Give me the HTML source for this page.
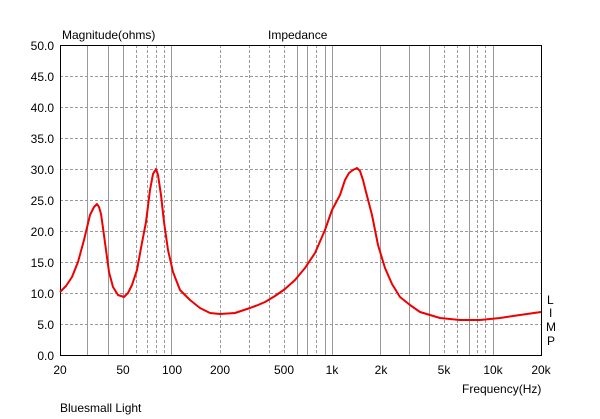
<!DOCTYPE html>
<html><head><style>body{margin:0;background:#fff}svg{display:block}text{font-family:"Liberation Sans",sans-serif;font-size:12px;fill:#000}</style></head><body>
<svg width="600" height="419" xmlns="http://www.w3.org/2000/svg">
<g stroke="#999" stroke-width="1" shape-rendering="crispEdges">
<g stroke-dasharray="3,2">
<line x1="60" x2="541" y1="76.5" y2="76.5"/><line x1="60" x2="541" y1="107.5" y2="107.5"/><line x1="60" x2="541" y1="138.5" y2="138.5"/><line x1="60" x2="541" y1="169.5" y2="169.5"/><line x1="60" x2="541" y1="200.5" y2="200.5"/><line x1="60" x2="541" y1="231.5" y2="231.5"/><line x1="60" x2="541" y1="262.5" y2="262.5"/><line x1="60" x2="541" y1="293.5" y2="293.5"/><line x1="60" x2="541" y1="324.5" y2="324.5"/>
<line x1="136.5" x2="136.5" y1="45" y2="355"/><line x1="147.5" x2="147.5" y1="45" y2="355"/><line x1="156.5" x2="156.5" y1="45" y2="355"/><line x1="164.5" x2="164.5" y1="45" y2="355"/>
<line x1="220.5" x2="220.5" y1="45" y2="355"/><line x1="249.5" x2="249.5" y1="45" y2="355"/><line x1="269.5" x2="269.5" y1="45" y2="355"/><line x1="284.5" x2="284.5" y1="45" y2="355"/><line x1="316.5" x2="316.5" y1="45" y2="355"/>
<line x1="444.5" x2="444.5" y1="45" y2="355"/><line x1="457.5" x2="457.5" y1="45" y2="355"/><line x1="477.5" x2="477.5" y1="45" y2="355"/><line x1="485.5" x2="485.5" y1="45" y2="355"/>
</g>
<line x1="87.5" x2="87.5" y1="45" y2="355"/><line x1="108.5" x2="108.5" y1="45" y2="355"/><line x1="123.5" x2="123.5" y1="45" y2="355"/><line x1="171.5" x2="171.5" y1="45" y2="355"/>
<line x1="297.5" x2="297.5" y1="45" y2="355"/><line x1="307.5" x2="307.5" y1="45" y2="355"/><line x1="325.5" x2="325.5" y1="45" y2="355"/><line x1="332.5" x2="332.5" y1="45" y2="355"/>
<line x1="380.5" x2="380.5" y1="45" y2="355"/><line x1="409.5" x2="409.5" y1="45" y2="355"/><line x1="429.5" x2="429.5" y1="45" y2="355"/><line x1="469.5" x2="469.5" y1="45" y2="355"/><line x1="493.5" x2="493.5" y1="45" y2="355"/>
</g>
<rect x="60.5" y="45.5" width="481" height="310" fill="none" stroke="#000" shape-rendering="crispEdges"/>
<polyline fill="none" stroke="#e00" stroke-width="2" stroke-linejoin="round" points="60,292 66,286 72,277 78,262 84,240 90,215 94,207 97,204 99,207 101,214 103,228 106,250 109,272 113,287 118,295 124,297 128,293 132,285 137,270 141,248 146,222 150,190 153,174 156,169 158,175 161,195 164,222 168,250 173,272 180,290 190,300 200,308 210,313 220,314 235,313 250,308 258,305 265,302 275,296 285,289 295,280 305,268 315,253 325,230 332,210 340,195 345,180 349,173 353,170 357,168 360,171 363,180 366,192 372,215 378,245 385,268 392,284 400,297 410,305 420,312 440,318 460,320 480,320 500,318 520,315 541,312"/>
<g text-anchor="end">
<text x="54" y="50">50.0</text><text x="54" y="81">45.0</text><text x="54" y="112">40.0</text><text x="54" y="143">35.0</text><text x="54" y="174">30.0</text><text x="54" y="205">25.0</text><text x="54" y="236">20.0</text><text x="54" y="267">15.0</text><text x="54" y="298">10.0</text><text x="54" y="329">5.0</text><text x="54" y="360">0.0</text>
</g>
<g text-anchor="middle">
<text x="60" y="374">20</text><text x="123" y="374">50</text><text x="172" y="374">100</text><text x="220" y="374">200</text><text x="284" y="374">500</text><text x="332" y="374">1k</text><text x="381" y="374">2k</text><text x="444" y="374">5k</text><text x="493" y="374">10k</text><text x="541" y="374">20k</text>
</g>
<text x="62" y="39">Magnitude(ohms)</text>
<text x="268" y="39">Impedance</text>
<text x="462" y="393">Frequency(Hz)</text>
<text x="60" y="412">Bluesmall Light</text>
<text x="547" y="304">L</text><text x="549" y="317">I</text><text x="546" y="331">M</text><text x="547" y="345">P</text>
</svg>
</body></html>
